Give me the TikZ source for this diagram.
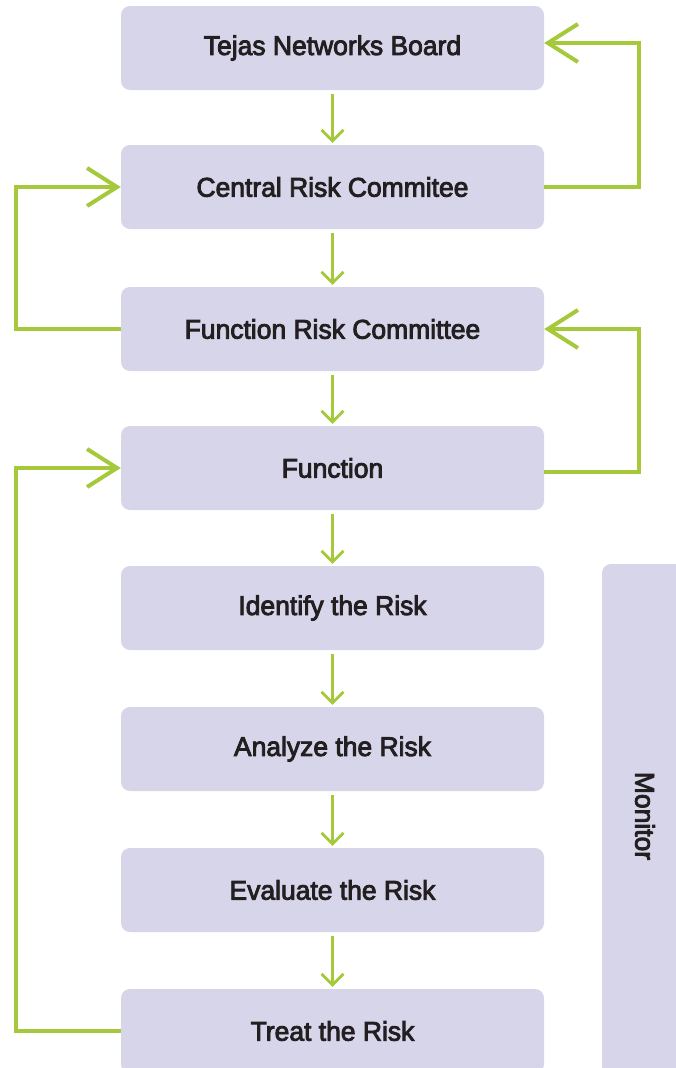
\documentclass[tikz,border=0pt]{standalone}
\usepackage{fontspec}
\setmainfont{Liberation Sans}[FakeStretch=0.98, BoldFont=Liberation Sans, BoldFeatures={FakeBold=3.2}]
\usetikzlibrary{arrows.meta}
\definecolor{boxfill}{HTML}{D6D5EA}
\definecolor{lgreen}{HTML}{A5C93A}
\definecolor{txt}{HTML}{231F20}
\begin{document}
\begin{tikzpicture}[x=1pt,y=-1pt,
  boxfont/.style={font=\fontsize{27}{32}\selectfont\bfseries, text=txt},
  stepbox/.style={fill=boxfill, rounded corners=9pt, minimum width=423pt, minimum height=84pt, inner sep=0pt, boxfont},
  monbox/.style={fill=boxfill, rounded corners=9pt, minimum width=86pt, minimum height=512pt, inner sep=0pt},
  downarr/.style={draw=lgreen, line width=2.7pt, -{Straight Barb[length=11pt,width=22pt]}},
  looparr/.style={draw=lgreen, line width=4pt, -{Straight Barb[length=30pt,width=38pt]}}]
\path[use as bounding box] (0,0) rectangle (676,1068);
\clip (0,0) rectangle (676,1068);
\node[stepbox] (b1) at (332.5,48) {Tejas Networks Board};
\node[stepbox] (b2) at (332.5,187) {Central Risk Commitee};
\node[stepbox] (b3) at (332.5,329) {Function Risk Committee};
\node[stepbox] (b4) at (332.5,468) {Function};
\node[stepbox] (b5) at (332.5,608) {Identify the Risk};
\node[stepbox] (b6) at (332.5,749) {Analyze the Risk};
\node[stepbox] (b7) at (332.5,890) {Evaluate the Risk};
\node[stepbox] (b8) at (332.5,1031) {Treat the Risk};
\node[monbox] (mon) at (645,820) {};
\node[boxfont, rotate=-90] (montext) at (645,816) {Monitor};
\foreach \a/\b in {b1/b2,b2/b3,b3/b4,b4/b5,b5/b6,b6/b7,b7/b8}
  \draw[downarr] ([yshift=-4pt]\a.south) -- ([yshift=2pt]\b.north);
\draw[looparr] (b2.east) -- (639,187) |- ([shift={(0,-5)}]b1.east);
\draw[looparr] (b3.west) -- (16,329) |- (b2.west);
\draw[looparr] ([shift={(0,4)}]b4.east) -- (639,472) |- (b3.east);
\draw[looparr] (b8.west) -- (16,1031) |- (b4.west);
\end{tikzpicture}
\end{document}
